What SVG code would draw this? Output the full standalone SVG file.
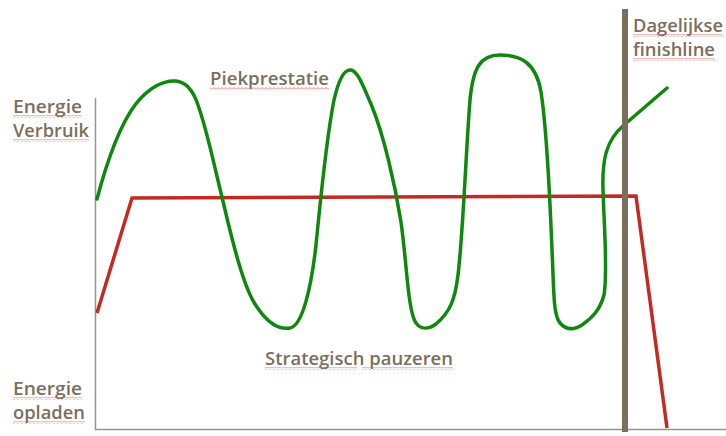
<svg xmlns="http://www.w3.org/2000/svg" width="726" height="436" viewBox="0 0 726 436">
  <defs>
    <pattern id="squig" patternUnits="userSpaceOnUse" width="4" height="3">
      <path d="M0,2.5 L2,0.5 L4,2.5" fill="none" stroke="#ee5555" stroke-width="0.8"/>
    </pattern>
  </defs>
  <style>
    .lbl { font-family: "Open Sans", "Liberation Sans", sans-serif; font-size: 17.5px; font-weight: 600; fill: #7a6f5c; }
    .sq { fill: url(#squig); }
    .axis { stroke: #9a9282; stroke-width: 1.5; fill: none; }
  </style>
  <rect width="726" height="436" fill="#ffffff"/>

  <g id="axes">
    <line class="axis" x1="95.5" y1="98" x2="95.5" y2="430"/>
    <line class="axis" x1="95" y1="429.5" x2="726" y2="429.5"/>
  </g>

  <g id="connectors">
    <path id="red-line" d="M97,313 L132,198 L636,196 L667,428" fill="none" stroke="#c42a24" stroke-width="3.5" stroke-linejoin="miter"/>
    <path id="green-curve" d="M97,199 C106,165 118,128 135,105 C148,88 163,80 176,81 C186,82 193,90 198,105 C207,130 214,165 222,197 C232,240 244,290 257,307 C267,322 278,330 290,328 C302,326 311,290 316,245 C320,205 326,140 334,100 C339,78 345,69 351,70 C358,71 364,88 371,104 C384,135 395,185 401,222 C407,265 408,312 416,323 C421,330 429,329 436,324 C450,312 455,300 458,275 C463,235 466,150 470,100 C473,68 480,55 500,55 C520,55 536,62 541,92 C547,130 550,200 552,250 C554,290 553,315 560,323 C566,330 574,330 582,325 C592,318 600,310 604,295 C608,272 604,225 603,190 C602,160 606,140 624,125 L667,88" fill="none" stroke="#0e880e" stroke-width="3.5" stroke-linecap="round" stroke-linejoin="round"/>
  </g>

  <g id="finishline">
    <rect x="622" y="9" width="6" height="423" fill="#7a6f5c"/>
  </g>

  <g id="label-energie-verbruik">
    <text class="lbl" x="13" y="113" textLength="69" lengthAdjust="spacingAndGlyphs">Energie</text>
    <text class="lbl" x="13" y="137" textLength="76" lengthAdjust="spacingAndGlyphs">Verbruik</text>
    <rect class="sq" x="13" y="115" width="69" height="3"/>
    <rect class="sq" x="13" y="139" width="76" height="3"/>
  </g>

  <g id="label-energie-opladen">
    <text class="lbl" x="13" y="395" textLength="69" lengthAdjust="spacingAndGlyphs">Energie</text>
    <text class="lbl" x="13" y="419" textLength="72" lengthAdjust="spacingAndGlyphs">opladen</text>
    <rect class="sq" x="13" y="397" width="69" height="3"/>
    <rect class="sq" x="13" y="421" width="72" height="3"/>
  </g>

  <g id="label-piekprestatie">
    <text class="lbl" x="210" y="85" textLength="119" lengthAdjust="spacingAndGlyphs">Piekprestatie</text>
    <rect class="sq" x="210" y="87" width="119" height="3"/>
  </g>

  <g id="label-strategisch">
    <text class="lbl" x="265" y="365" textLength="188" lengthAdjust="spacingAndGlyphs">Strategisch pauzeren</text>
    <rect class="sq" x="265" y="367" width="92" height="3"/>
    <rect class="sq" x="362" y="367" width="91" height="3"/>
  </g>

  <g id="label-dagelijkse">
    <text class="lbl" x="633" y="32" textLength="90" lengthAdjust="spacingAndGlyphs">Dagelijkse</text>
    <text class="lbl" x="633" y="56" textLength="82" lengthAdjust="spacingAndGlyphs">finishline</text>
    <rect class="sq" x="633" y="34" width="90" height="3"/>
    <rect class="sq" x="633" y="58" width="82" height="3"/>
  </g>
</svg>
